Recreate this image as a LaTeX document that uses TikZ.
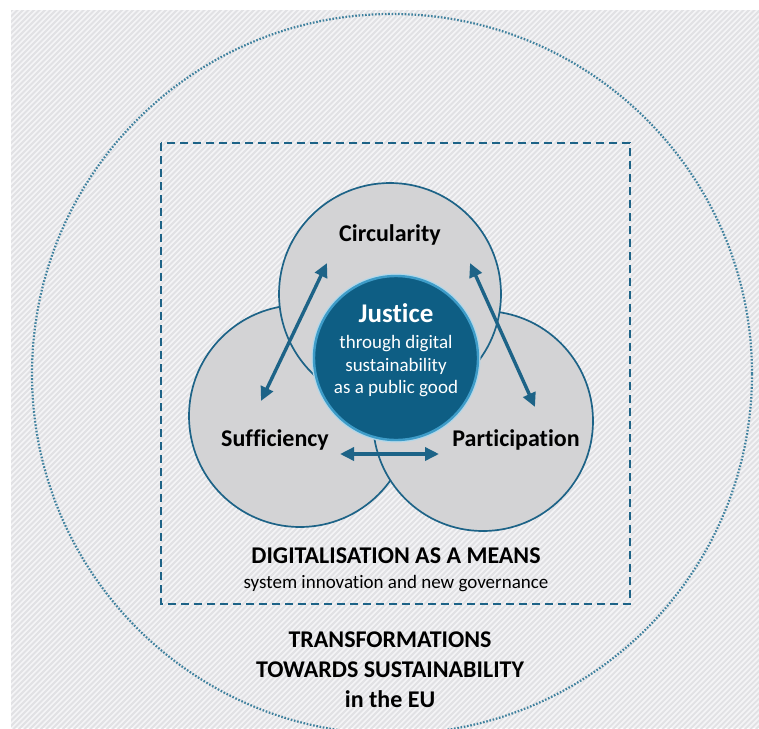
\documentclass[tikz,border=0pt]{standalone}
\usepackage{fontspec}
\setmainfont{Carlito}[Ligatures={NoCommon,NoContextual}]
\usetikzlibrary{arrows.meta}

\definecolor{edgeblue}{HTML}{1D6387}
\definecolor{coreblue}{HTML}{0E5E84}
\definecolor{coreglow}{HTML}{3E9CC8}
\definecolor{dotblue}{HTML}{3F819E}
\definecolor{discgray}{HTML}{D3D3D5}
\definecolor{hatchbase}{HTML}{F4F4F6}
\definecolor{hatchline}{HTML}{E1E1E4}

\tikzset{
  pillar/.style={draw=edgeblue, line width=1.7pt, fill=discgray},
  pillarlabel/.style={anchor=base, font=\fontsize{24}{28}\selectfont\bfseries, text=black},
  link/.style={draw=edgeblue, line width=3.4pt,
    {Triangle[length=14pt,width=13pt]}-{Triangle[length=14pt,width=13pt]}},
  caption/.style={anchor=base, text=black},
}

\begin{document}
\begin{tikzpicture}[x=1pt,y=-1pt]
  \useasboundingbox (0,0) rectangle (759,728);

  % hatched backdrop
  \fill[hatchbase] (11,10) rectangle (759,728);
  \begin{scope}
    \clip (11,10) rectangle (759,728);
    \foreach \c in {0,5.5,...,1500} {
      \draw[hatchline, line width=1.8pt] (\c,0) -- (\c-760,760);
    }
  \end{scope}

  % outer dotted ring
  \coordinate (ringc) at (392,374);
  \draw[dotblue, line width=2.2pt, dash pattern=on 1.6pt off 1.7pt] (ringc) circle[radius=360];

  % dashed frame
  \draw[edgeblue, line width=2pt, dash pattern=on 8pt off 5pt] (161,143) rectangle (630,604);

  % three pillars
  \path[pillar] (300,416) circle[radius=111];
  \path[pillar] (483,421) circle[radius=110];
  \path[pillar] (390,294) circle[radius=111];

  % core disc with a soft rim
  \path[draw=coreglow!40, line width=5pt] (396,358) circle[radius=82];
  \path[fill=coreblue, draw=coreglow, line width=2.4pt] (396,358) circle[radius=82];

  % labels
  \node[pillarlabel] (circ) at (390,241) {Circularity};
  \node[pillarlabel] (suff) at (275,446) {Sufficiency};
  \node[pillarlabel] (part) at (516,446) {Participation};

  \node[anchor=base, text=white, font=\fontsize{27}{30}\selectfont\bfseries] (just) at (396,322) {Justice};
  \node[anchor=base, text=white, font=\fontsize{19}{22}\selectfont] (j1) at (396,348) {through digital};
  \node[anchor=base, text=white, font=\fontsize{19}{22}\selectfont] (j2) at (396,371) {sustainability};
  \node[anchor=base, text=white, font=\fontsize{19}{22}\selectfont] (j3) at (396,393) {as a public good};

  \node[caption, font=\fontsize{24}{28}\selectfont\bfseries] (dig) at (396,563) {DIGITALISATION AS A MEANS};
  \node[caption, font=\fontsize{19}{22}\selectfont] (sys) at (396,588) {system innovation and new governance};

  \node[caption, font=\fontsize{24}{28}\selectfont\bfseries] (t1) at (390,647) {TRANSFORMATIONS};
  \node[caption, font=\fontsize{24}{28}\selectfont\bfseries] (t2) at (390,677) {TOWARDS SUSTAINABILITY};
  \node[caption, font=\fontsize{24}{28}\selectfont\bfseries] (t3) at (390,707) {in the EU};

  % arrows between pillars
  \coordinate (aSuffUp) at (261,401);
  \coordinate (aCircL) at (327,263);
  \coordinate (aCircR) at (470,263);
  \coordinate (aPartUp) at (535,407);
  \coordinate (aSuffR) at (340,454);
  \coordinate (aPartL) at (439,454);
  \draw[link] (aSuffUp) -- (aCircL);
  \draw[link] (aCircR) -- (aPartUp);
  \draw[link] (aSuffR) -- (aPartL);
\end{tikzpicture}
\end{document}
